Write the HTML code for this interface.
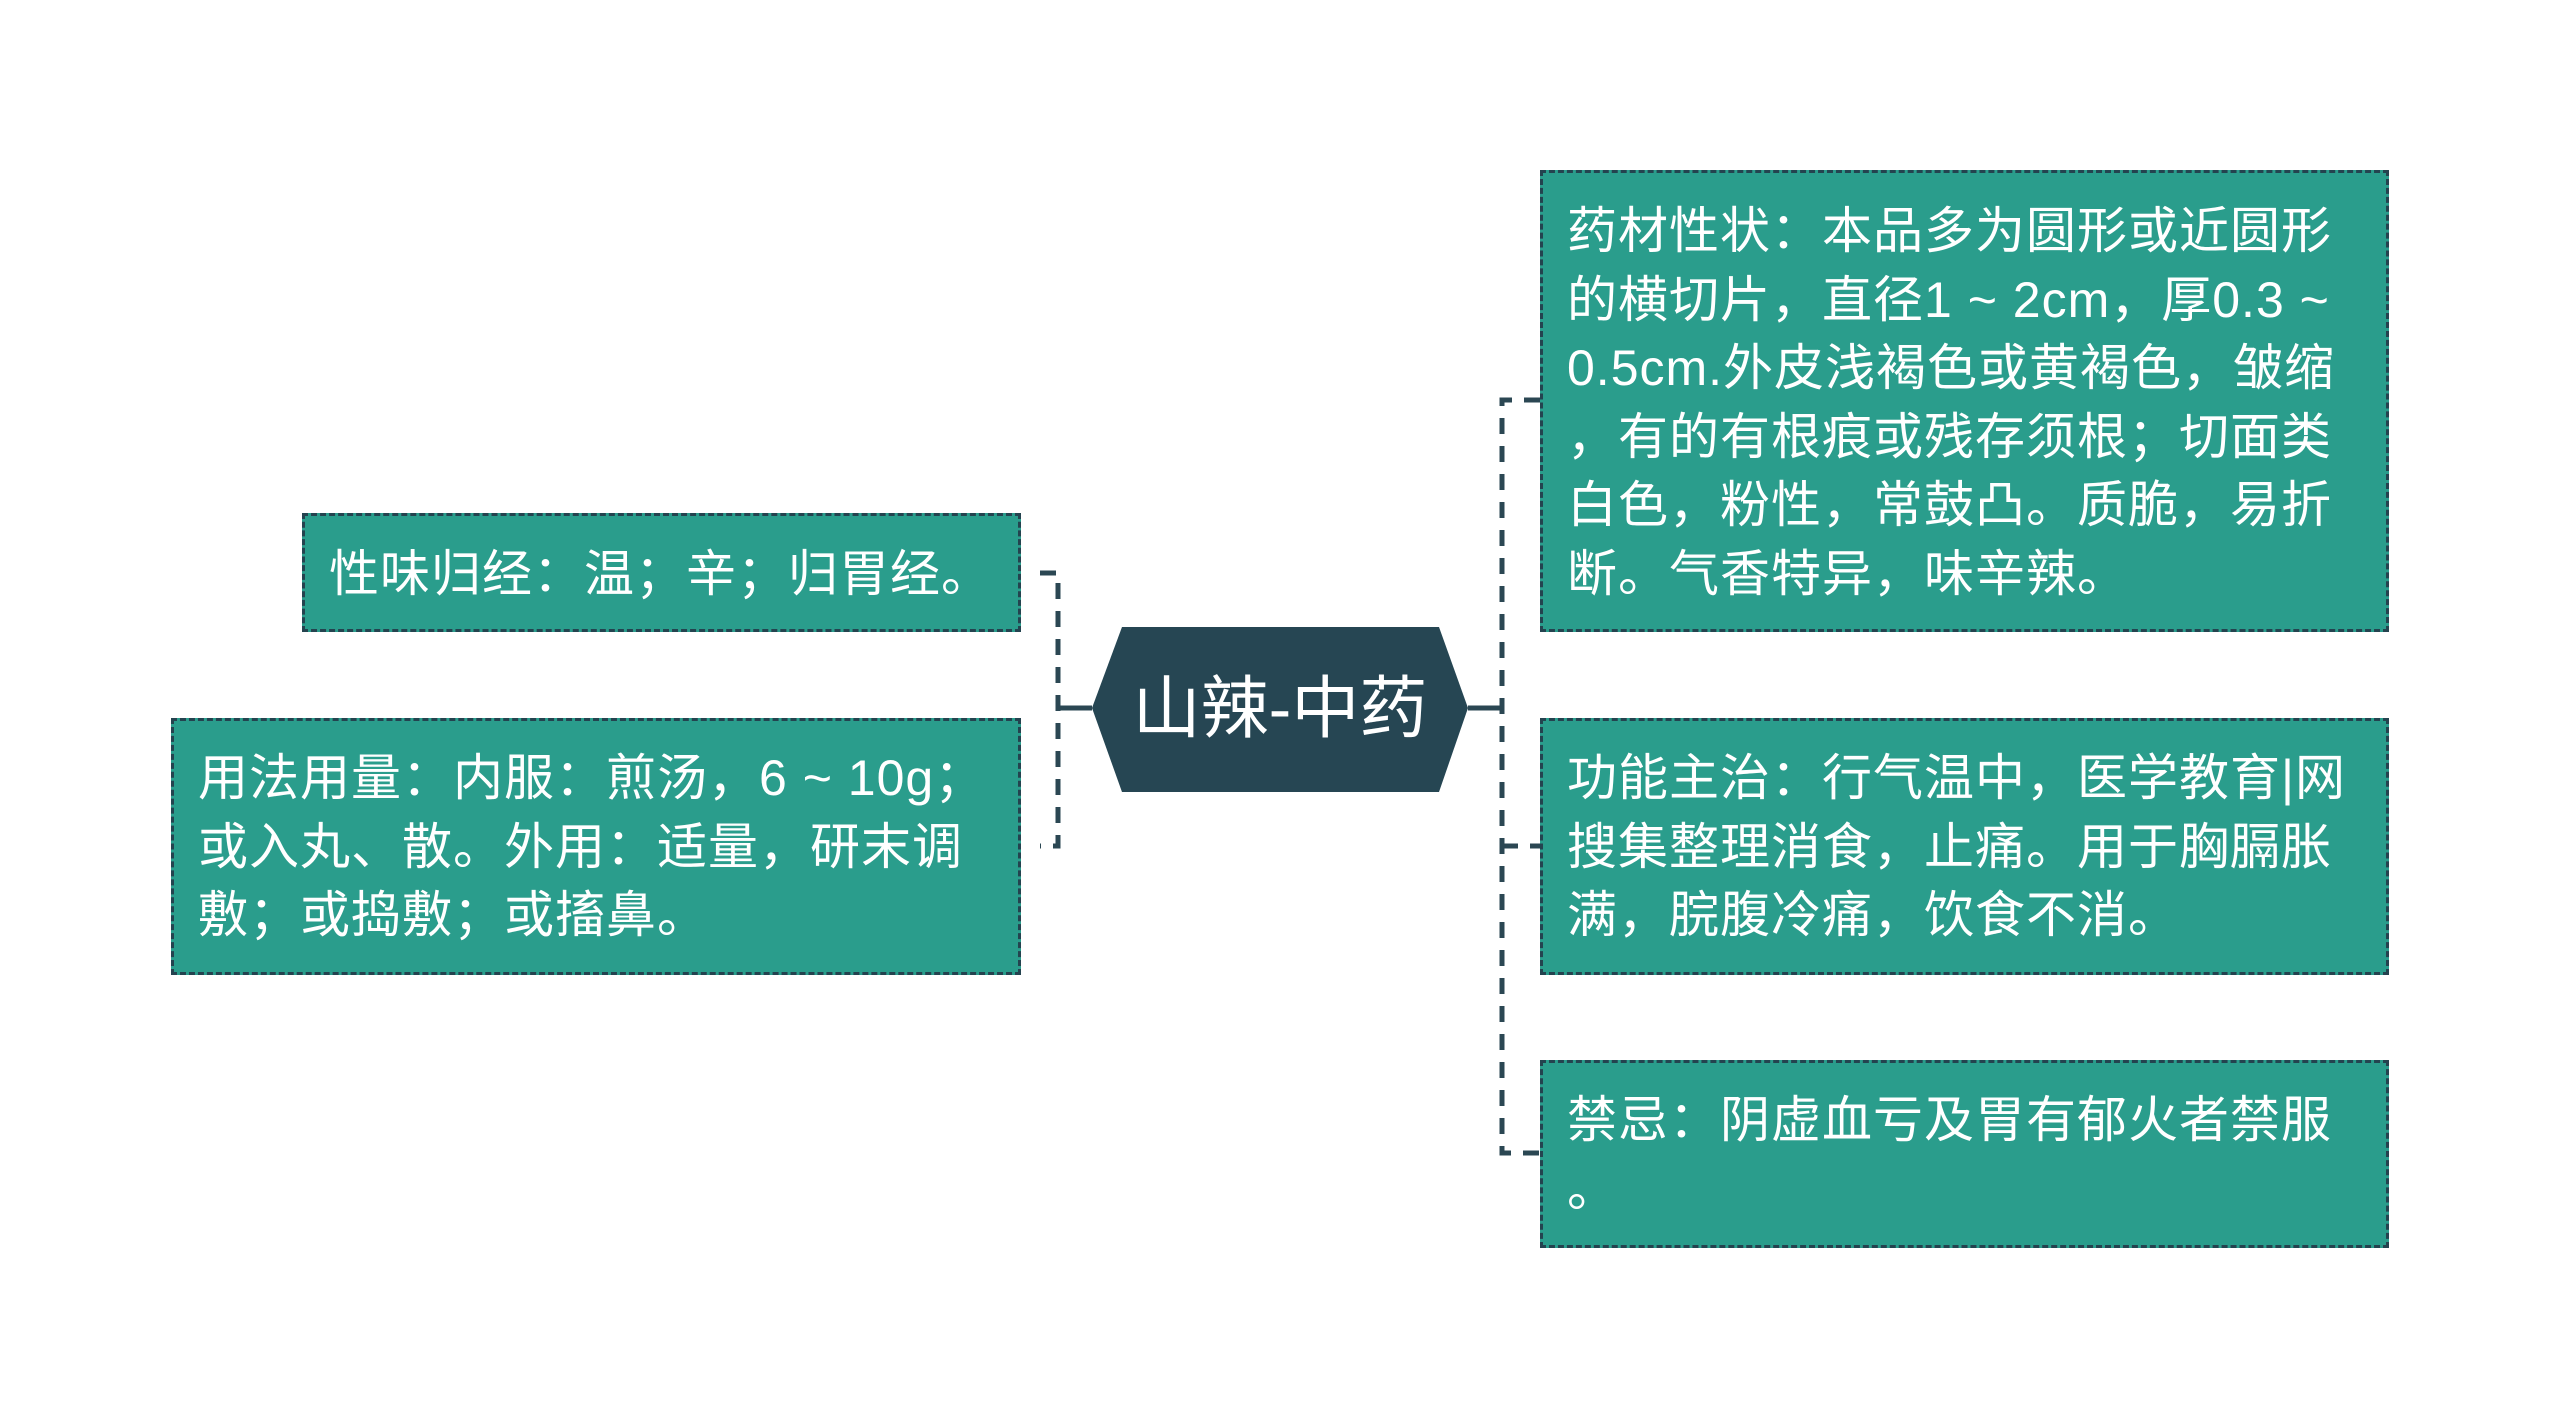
<!DOCTYPE html>
<html><head><meta charset="utf-8"><style>
html,body{margin:0;padding:0;background:#fff;}
body{width:2560px;height:1419px;position:relative;overflow:hidden;font-family:"Liberation Sans","Noto Sans CJK SC",sans-serif;}
.box{position:absolute;background:#2a9d8c;border:3px dashed #24434f;box-sizing:border-box;color:#fff;font-size:50px;line-height:68.6px;white-space:nowrap;padding-left:24px;letter-spacing:1px;}
</style></head><body>
<svg width="2560" height="1419" style="position:absolute;left:0;top:0">
<g stroke="#2b4753" stroke-width="5" fill="none" stroke-dasharray="16 12">
<path d="M1040 573 H1058 V846 H1040"/>
<path d="M1540 400 H1502 V1153 H1540"/>
<path d="M1502 846 H1540"/>
</g>
<g stroke="#2b4753" stroke-width="5">
<line x1="1058" y1="708" x2="1092" y2="708"/>
<line x1="1468" y1="708" x2="1502" y2="708"/>
</g>
<polygon points="1092,708 1122,627 1439,627 1468,708 1439,792 1122,792" fill="#264653"/>
<text x="1280" y="732" fill="#fff" font-size="68" text-anchor="middle" font-family="Liberation Sans, Noto Sans CJK SC, sans-serif">山辣-中药</text>
</svg>
<div class="box" style="left:302px;top:513px;width:719px;height:119px;padding-top:24px;">性味归经：温；辛；归胃经。</div>
<div class="box" style="left:171px;top:718px;width:850px;height:257px;padding-top:23px;">用法用量：内服：煎汤，6 ~ 10g；<br>或入丸、散。外用：适量，研末调<br>敷；或捣敷；或搐鼻。</div>
<div class="box" style="left:1540px;top:170px;width:849px;height:462px;padding-top:24px;">药材性状：本品多为圆形或近圆形<br>的横切片，直径1 ~ 2cm，厚0.3 ~<br>0.5cm.外皮浅褐色或黄褐色，皱缩<br>，有的有根痕或残存须根；切面类<br>白色，粉性，常鼓凸。质脆，易折<br>断。气香特异，味辛辣。</div>
<div class="box" style="left:1540px;top:718px;width:849px;height:257px;padding-top:23px;">功能主治：行气温中，医学教育|网<br>搜集整理消食，止痛。用于胸膈胀<br>满，脘腹冷痛，饮食不消。</div>
<div class="box" style="left:1540px;top:1060px;width:849px;height:188px;padding-top:23px;">禁忌：阴虚血亏及胃有郁火者禁服<br>。</div>
</body></html>
